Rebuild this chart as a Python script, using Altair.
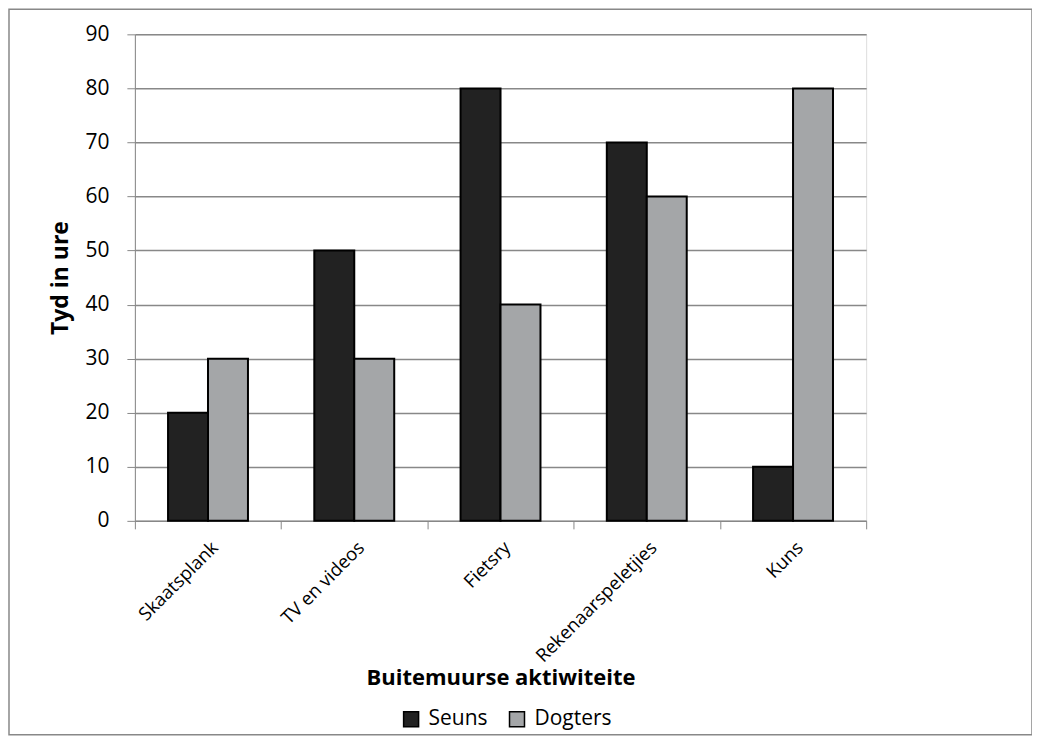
import altair as alt
import pandas as pd

categories = ["Skaatsplank", "TV en videos", "Fietsry", "Rekenaarspeletjies", "Kuns"]
seuns = [20, 50, 80, 70, 10]
dogters = [30, 30, 40, 60, 80]
series = ["Seuns", "Dogters"]

rows = []
for c, s, d in zip(categories, seuns, dogters):
    rows.append({"cat": c, "series": "Seuns", "value": s})
    rows.append({"cat": c, "series": "Dogters", "value": d})
df = pd.DataFrame(rows)

FONT = "Open Sans"
W, H = 732, 487

bars = alt.Chart(df).mark_bar(stroke="black", strokeWidth=2).encode(
    x=alt.X("cat:N", sort=categories, title="Buitemuurse aktiwiteite",
            scale=alt.Scale(paddingInner=0, paddingOuter=0),
            axis=alt.Axis(labelAngle=-45, labelFontSize=18.5, labelFont=FONT,
                          labelColor="black", titleFontSize=22, titleFont=FONT,
                          titleFontWeight="bold", titleColor="black",
                          domainColor="#888888", tickColor="#888888",
                          tickSize=8, tickBand="extent", labelPadding=9,
                          titlePadding=2, grid=False)),
    xOffset=alt.XOffset("series:N", sort=series,
                        scale=alt.Scale(paddingInner=0, paddingOuter=0.83)),
    y=alt.Y("value:Q", title="Tyd in ure",
            scale=alt.Scale(domain=[0, 90]),
            axis=alt.Axis(values=list(range(0, 91, 10)), labelFontSize=21,
                          labelFont=FONT, labelColor="black",
                          titleFontSize=23, titleFont=FONT, titleFontWeight="bold",
                          titleColor="black", domainColor="#888888",
                          tickColor="#888888", tickSize=8, labelPadding=18,
                          titlePadding=12, gridColor="#888888", gridWidth=1.5)),
    color=alt.Color("series:N", sort=series,
                    scale=alt.Scale(domain=series, range=["#222222", "#a4a6a8"]),
                    legend=alt.Legend(title=None, orient="none", direction="horizontal",
                                      legendX=266, legendY=675, symbolType="square",
                                      symbolSize=225, labelFontSize=21, labelFont=FONT,
                                      labelColor="black", columnPadding=18,
                                      labelOffset=7, symbolStrokeColor="black",
                                      symbolStrokeWidth=1.5)),
)

border = alt.Chart(pd.DataFrame({"a": [0]})).mark_rect(
    fill=None, stroke="#888888", strokeWidth=1.5
).encode(
    x=alt.value(-126), x2=alt.value(W + 166),
    y=alt.value(-25), y2=alt.value(H + 214),
)

chart = alt.layer(bars, border).properties(
    width=W, height=H,
    autosize=alt.AutoSizeParams(type="none"),
    padding={"left": 127, "top": 26, "right": 166, "bottom": 216},
).configure_view(stroke=None).configure(background="white")

chart.save("out.html", embed_options={"renderer": "svg", "actions": False})
